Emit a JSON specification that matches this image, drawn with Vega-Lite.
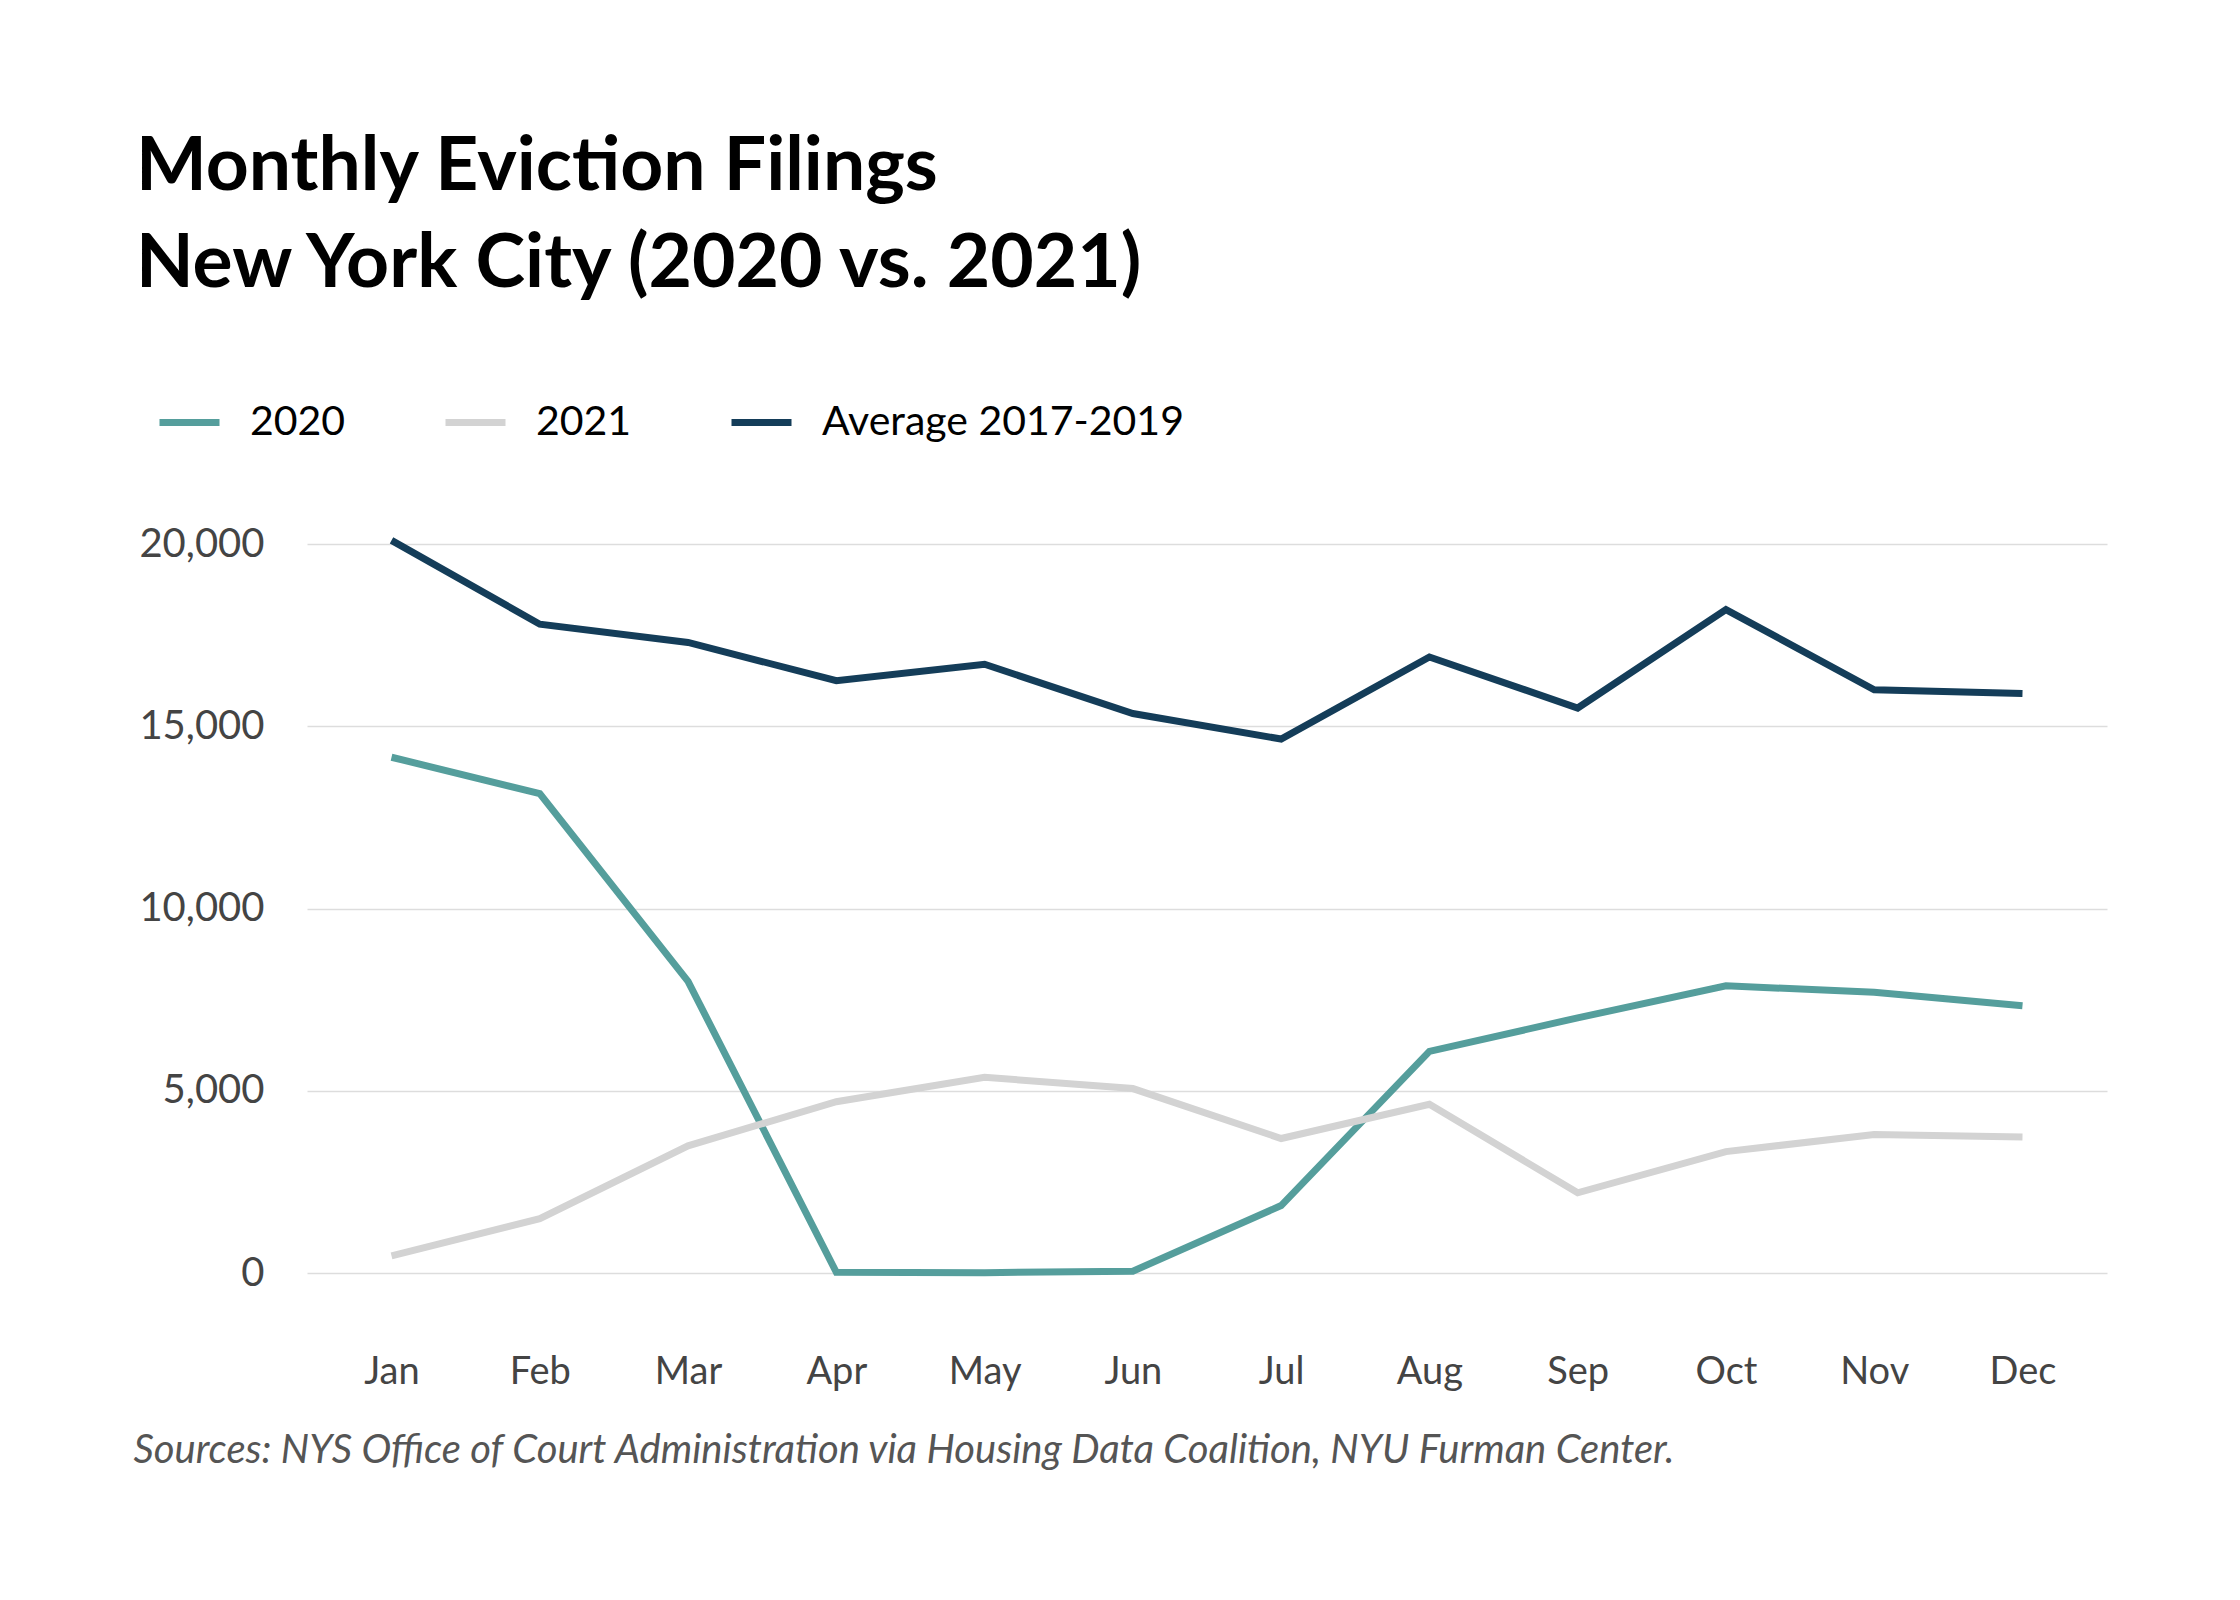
{
  "$schema": "https://vega.github.io/schema/vega-lite/v6.json",
  "width": 1800,
  "height": 729,
  "autosize": "none",
  "padding": {"left": 307, "top": 544, "right": 133, "bottom": 327},
  "background": "white",
  "config": {"view": {"stroke": null}},
  "title": {
    "text": ["Monthly Eviction Filings", "New York City (2020 vs. 2021)"],
    "anchor": "start",
    "frame": "group",
    "dx": -171,
    "offset": 86,
    "font": "Lato",
    "fontSize": 75,
    "fontWeight": "bold",
    "lineHeight": 97,
    "color": "#000000"
  },
  "data": {
    "values": [
      {"month": "Jan", "series": "2020", "filings": 14150},
      {"month": "Feb", "series": "2020", "filings": 13150},
      {"month": "Mar", "series": "2020", "filings": 8000},
      {"month": "Apr", "series": "2020", "filings": 20},
      {"month": "May", "series": "2020", "filings": 10},
      {"month": "Jun", "series": "2020", "filings": 50},
      {"month": "Jul", "series": "2020", "filings": 1850},
      {"month": "Aug", "series": "2020", "filings": 6080},
      {"month": "Sep", "series": "2020", "filings": 7000},
      {"month": "Oct", "series": "2020", "filings": 7880},
      {"month": "Nov", "series": "2020", "filings": 7700},
      {"month": "Dec", "series": "2020", "filings": 7330},
      {"month": "Jan", "series": "2021", "filings": 470},
      {"month": "Feb", "series": "2021", "filings": 1490},
      {"month": "Mar", "series": "2021", "filings": 3490},
      {"month": "Apr", "series": "2021", "filings": 4700},
      {"month": "May", "series": "2021", "filings": 5370},
      {"month": "Jun", "series": "2021", "filings": 5060},
      {"month": "Jul", "series": "2021", "filings": 3690},
      {"month": "Aug", "series": "2021", "filings": 4630},
      {"month": "Sep", "series": "2021", "filings": 2200},
      {"month": "Oct", "series": "2021", "filings": 3330},
      {"month": "Nov", "series": "2021", "filings": 3800},
      {"month": "Dec", "series": "2021", "filings": 3730},
      {"month": "Jan", "series": "Average 2017-2019", "filings": 20100},
      {"month": "Feb", "series": "Average 2017-2019", "filings": 17800},
      {"month": "Mar", "series": "Average 2017-2019", "filings": 17300},
      {"month": "Apr", "series": "Average 2017-2019", "filings": 16250},
      {"month": "May", "series": "Average 2017-2019", "filings": 16700},
      {"month": "Jun", "series": "Average 2017-2019", "filings": 15350},
      {"month": "Jul", "series": "Average 2017-2019", "filings": 14650},
      {"month": "Aug", "series": "Average 2017-2019", "filings": 16900},
      {"month": "Sep", "series": "Average 2017-2019", "filings": 15500},
      {"month": "Oct", "series": "Average 2017-2019", "filings": 18200},
      {"month": "Nov", "series": "Average 2017-2019", "filings": 16000},
      {"month": "Dec", "series": "Average 2017-2019", "filings": 15900}
    ]
  },
  "mark": {"type": "line", "strokeWidth": 7, "strokeJoin": "miter"},
  "encoding": {
    "x": {
      "field": "month",
      "type": "ordinal",
      "sort": ["Jan", "Feb", "Mar", "Apr", "May", "Jun", "Jul", "Aug", "Sep", "Oct", "Nov", "Dec"],
      "scale": {"type": "point", "padding": 0.57},
      "axis": {
        "title": "Sources: NYS Office of Court Administration via Housing Data Coalition, NYU Furman Center.",
        "titleAnchor": "start",
        "titleAlign": "left",
        "titleX": -174,
        "titleY": 177,
        "titleBaseline": "middle",
        "titleFont": "Lato",
        "titleFontSize": 40,
        "titleFontStyle": "italic",
        "titleFontWeight": "normal",
        "titleColor": "#555555",
        "titleLimit": 2000,
        "labelFont": "Lato",
        "labelFontSize": 38,
        "labelColor": "#444444",
        "labelAngle": 0,
        "labelPadding": 80,
        "ticks": false,
        "domain": false,
        "grid": false
      }
    },
    "y": {
      "field": "filings",
      "type": "quantitative",
      "scale": {"domain": [0, 20000]},
      "axis": {
        "title": null,
        "values": [0, 5000, 10000, 15000, 20000],
        "format": ",d",
        "labelFont": "Lato",
        "labelFontSize": 40,
        "labelColor": "#444444",
        "labelPadding": 43,
        "ticks": false,
        "domain": false,
        "grid": true,
        "gridColor": "#dddddd",
        "gridWidth": 1.5
      }
    },
    "color": {
      "field": "series",
      "type": "nominal",
      "scale": {
        "domain": ["2020", "2021", "Average 2017-2019"],
        "range": ["#559e9c", "#d3d3d3", "#143d59"]
      },
      "legend": {
        "title": null,
        "orient": "none",
        "direction": "horizontal",
        "legendX": -151,
        "legendY": -155,
        "symbolType": "stroke",
        "symbolSize": 3600,
        "symbolStrokeWidth": 7,
        "labelFont": "Lato",
        "labelFontSize": 41,
        "labelColor": "#000000",
        "labelLimit": 600,
        "labelOffset": 27,
        "columnPadding": 85,
        "gridAlign": "none"
      }
    }
  }
}
